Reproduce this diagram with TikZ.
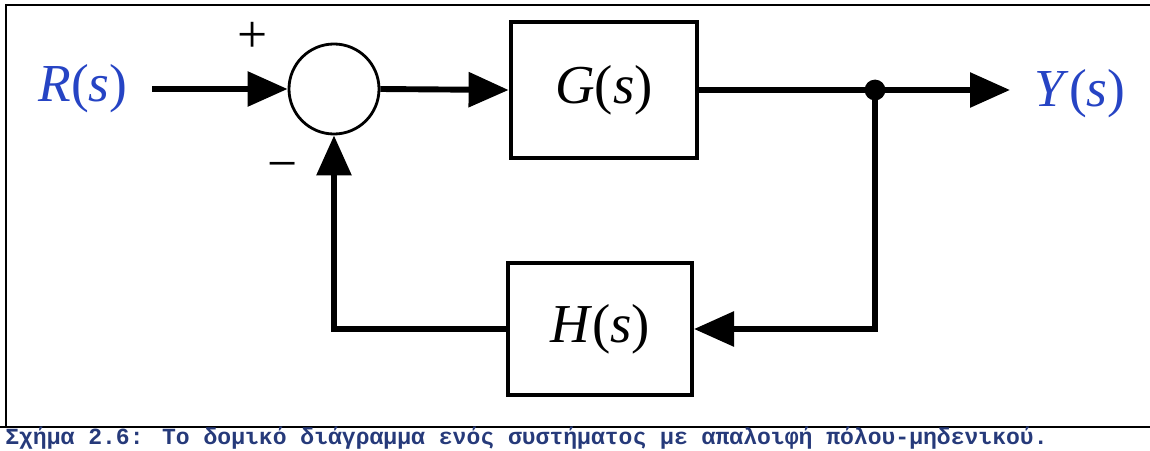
\documentclass[tikz,border=0pt]{standalone}
\usepackage{fontspec}
\setmainfont{Liberation Serif}
\newfontfamily\capfont{Liberation Mono}
\usetikzlibrary{arrows.meta}

\definecolor{sigblue}{RGB}{38,68,196}
\definecolor{capblue}{RGB}{38,58,122}

\tikzset{
  block/.style={draw, line width=2.8pt, inner sep=0pt,
    font=\fontsize{39}{39}\selectfont},
  sumnode/.style={draw, circle, line width=2pt, minimum size=2.25cm, inner sep=0pt},
  sig/.style={line width=4.2pt, -{Triangle[length=1cm,width=0.85cm]}},
  wire/.style={line width=4.2pt},
  siglabel/.style={text=sigblue, font=\fontsize{38}{38}\selectfont},
  sign/.style={font=\fontsize{38}{38}\selectfont, inner sep=0pt},
  frame/.style={line width=1.9pt}
}

\begin{document}
\begin{tikzpicture}[x=0.025cm, y=0.025cm]
  \useasboundingbox (0,0) rectangle (1150,450);

  % frame and caption
  \draw[frame] (1150,445) -- (6,445) -- (6,23);
  \draw[frame] (0,23) -- (1150,23);
  \node[anchor=base west, inner sep=0pt, text=capblue,
        font=\capfont\bfseries\fontsize{16.4}{16.4}\selectfont] (caption) at (5,6)
    {Σχήμα 2.6: Το δομικό διάγραμμα ενός συστήματος με απαλοιφή πόλου-μηδενικού.};

  % blocks
  \node[siglabel] (R) at (83,361) {\textit{R}(\textit{s})};
  \node[sumnode] (sum) at (334,361) {};
  \node[block, minimum width=4.67cm, minimum height=3.4cm] (G) at (604,360) {\textit{G}(\textit{s})};
  \node[block, minimum width=4.6cm, minimum height=3.3cm] (H) at (600,121) {\textit{H}(\textit{s})};
  \node[siglabel] (Y) at (1080,356) {\textit{Y}(\textit{s})};
  \coordinate (out) at (1010,360);
  \node[circle, fill=black, minimum size=0.52cm, inner sep=0pt] (split) at (875,360) {};

  % signs at the summing junction
  \node[sign] (plus) at (253,413) {+};
  \node[sign] (minus) at (283,278) {−};

  % forward path
  \draw[sig] ([xshift=0.5cm]R.east) -- (sum.west);
  \draw[sig] (sum.east) -- (G.west);
  \draw[wire] (G.east) -- (split.center);
  \draw[sig] (split.center) -- (out);

  % feedback path
  \draw[sig] (split.center) |- (H.east);
  \draw[sig] (H.west) -| (sum.south);
\end{tikzpicture}
\end{document}
